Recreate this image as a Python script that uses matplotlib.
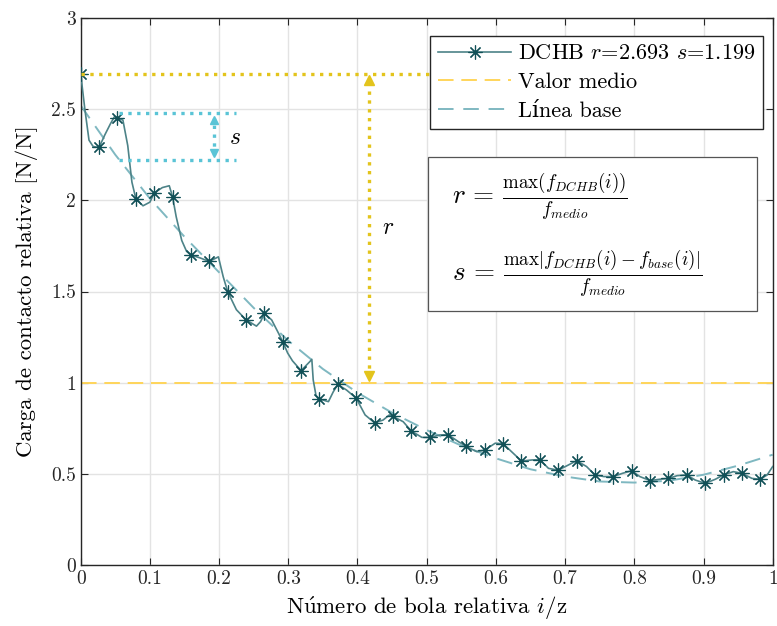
import numpy as np
import matplotlib
matplotlib.use("Agg")
import matplotlib.pyplot as plt
from matplotlib.ticker import FormatStrFormatter
from matplotlib.patches import Rectangle

plt.rcParams['font.family'] = ['cmr10', 'DejaVu Serif']
plt.rcParams['mathtext.fontset'] = 'cm'
plt.rcParams['axes.formatter.use_mathtext'] = True

# relative ball position of each marked ball
ball_x = np.linspace(0, 0.982, 38)
ball_load = [2.693, 2.29, 2.45, 2.01, 2.04, 2.02, 1.70, 1.665, 1.50, 1.345,
             1.38, 1.225, 1.066, 0.91, 0.99, 0.915, 0.78, 0.815, 0.735, 0.70,
             0.715, 0.65, 0.63, 0.665, 0.57, 0.578, 0.52, 0.572, 0.494, 0.485,
             0.517, 0.463, 0.475, 0.494, 0.448, 0.494, 0.503, 0.47]

# load between the marked balls
between_x = [0.006, 0.012, 0.018, 0.035, 0.043, 0.049, 0.061, 0.068, 0.074,
             0.090, 0.100, 0.118, 0.128, 0.138, 0.146, 0.153, 0.172, 0.199,
             0.206, 0.225, 0.254, 0.260, 0.276, 0.286, 0.299, 0.306, 0.331,
             0.334, 0.336, 0.340, 0.358, 0.365, 0.384, 0.411, 0.437, 0.446,
             0.466, 0.493, 0.519, 0.546, 0.572, 0.599, 0.625, 0.652, 0.676,
             0.705, 0.731, 0.756, 0.783, 0.808, 0.836, 0.862, 0.888, 0.917,
             0.943, 0.970, 0.992, 1.0]
between_load = [2.50, 2.33, 2.295, 2.36, 2.42, 2.46, 2.44, 2.30, 2.10,
                1.97, 1.99, 2.07, 2.08, 1.91, 1.78, 1.72, 1.685, 1.69,
                1.58, 1.40, 1.31, 1.335, 1.344, 1.27, 1.163, 1.12, 1.115,
                1.128, 1.015, 0.93, 0.896, 0.95, 0.96, 0.823, 0.795, 0.823,
                0.786, 0.70, 0.713, 0.676, 0.622, 0.668, 0.613, 0.576, 0.53,
                0.549, 0.54, 0.485, 0.503, 0.485, 0.47, 0.49, 0.466, 0.47,
                0.512, 0.475, 0.494, 0.54]

# baseline trend
base_x = [0, 0.05, 0.1, 0.15, 0.2, 0.25, 0.3, 0.35, 0.4, 0.45, 0.5,
          0.55, 0.6, 0.65, 0.7, 0.75, 0.8, 0.85, 0.9, 0.95, 1.0]
base_load = [2.52, 2.25, 2.01, 1.80, 1.605, 1.41, 1.23, 1.075, 0.945, 0.835,
             0.74, 0.655, 0.585, 0.525, 0.485, 0.458, 0.452, 0.462, 0.495,
             0.545, 0.605]

mean_load = 1.0
r_value = 2.693
s_value = 1.199
s_top, s_bottom = 2.48, 2.22

line_x = np.concatenate([ball_x, between_x])
line_y = np.concatenate([ball_load, between_load])
order = np.argsort(line_x)
line_x, line_y = line_x[order], line_y[order]

c_line = '#4d8388'
c_mark = '#115057'
c_base = '#7fb8c1'
c_mean = '#ffd55a'
c_r = '#e3c41c'
c_s = '#5ac4d6'
star = (8, 2, 0)

fig = plt.figure(figsize=(7.77, 6.26), dpi=100)
ax = fig.add_axes([80.7 / 777, 61 / 626, 692 / 777, 547 / 626])

ax.plot(line_x, line_y, color=c_line, lw=1.2, zorder=3)
ax.plot(ball_x, ball_load, ls='none', marker=star, ms=10, mew=0.85,
        color=c_mark, zorder=4)
ax.axhline(mean_load, color=c_mean, lw=1.4, ls=(0, (8, 4)), zorder=2)
ax.plot(base_x, base_load, color=c_base, lw=1.4, ls=(0, (8, 5)), zorder=2)

# legend handles
h_main, = ax.plot([], [], color=c_line, lw=1.2, marker=star, ms=10,
                  mew=0.85, mec=c_mark, label=f'DCHB $r$=${r_value}$ $s$=${s_value}$')
h_mean, = ax.plot([], [], color=c_mean, lw=1.4, ls=(0, (8, 4)), label='Valor medio')
h_base, = ax.plot([], [], color=c_base, lw=1.4, ls=(0, (8, 5)), label='Línea base')

# r annotation
ax.plot([0, 0.541], [r_value, r_value], color=c_r, lw=2.4, ls=':', zorder=5)
ax.plot([0.416, 0.416], [mean_load + 0.03, r_value - 0.03], color=c_r, lw=2.4,
        ls=':', zorder=5)
ax.plot(0.416, r_value - 0.035, marker='^', ms=7, color=c_r, zorder=5)
ax.plot(0.416, mean_load + 0.035, marker='v', ms=7, color=c_r, zorder=5)
ax.text(0.435, 1.85, '$r$', fontsize=17, ha='left', va='center')

# s annotation
ax.plot([0.056, 0.225], [s_top, s_top], color=c_s, lw=2.4, ls=':', zorder=5)
ax.plot([0.056, 0.225], [s_bottom, s_bottom], color=c_s, lw=2.4, ls=':', zorder=5)
ax.plot([0.192, 0.192], [s_bottom + 0.03, s_top - 0.03], color=c_s, lw=2.4,
        ls=':', zorder=5)
ax.plot(0.192, s_top - 0.04, marker='^', ms=6, color=c_s, zorder=5)
ax.plot(0.192, s_bottom + 0.04, marker='v', ms=6, color=c_s, zorder=5)
ax.text(0.215, 2.34, '$s$', fontsize=17, ha='left', va='center')

# formula box
ax.add_patch(Rectangle((0.502, 0.464), 0.475, 0.282, transform=ax.transAxes,
                       fill=True, facecolor='white', edgecolor='#555555',
                       lw=0.9, zorder=6))
ax.text(0.537, 0.672, r'$r\,=\,\frac{\max(f_{DCHB}(i))}{f_{medio}}$',
        transform=ax.transAxes, fontsize=19.5, va='center', zorder=7)
ax.text(0.537, 0.532, r'$s\,=\,\frac{\max|f_{DCHB}(i)-f_{base}(i)|}{f_{medio}}$',
        transform=ax.transAxes, fontsize=19.5, va='center', zorder=7)

leg = ax.legend(handles=[h_main, h_mean, h_base], loc='upper right',
                bbox_to_anchor=(0.986, 0.967), borderaxespad=0, fontsize=16,
                handlelength=3.3, handletextpad=0.3, labelspacing=0.42,
                borderpad=0.35, fancybox=False, framealpha=1)
leg.get_frame().set_edgecolor('#262626')
leg.get_frame().set_linewidth(1.0)
leg.set_zorder(8)

ax.set_xlim(0, 1)
ax.set_ylim(0, 3)
ax.set_xticks(np.arange(0, 1.01, 0.1))
ax.set_yticks(np.arange(0, 3.01, 0.5))
ax.xaxis.set_major_formatter(FormatStrFormatter('%g'))
ax.yaxis.set_major_formatter(FormatStrFormatter('%g'))
ax.tick_params(direction='in', top=True, right=True, labelsize=14,
               length=5, width=0.8, colors='#262626')
ax.grid(True, color='#e3e3e3', lw=1.0)
ax.set_axisbelow(True)
for sp in ax.spines.values():
    sp.set_color('#262626')
    sp.set_linewidth(1.0)

ax.set_xlabel(r'N$\acute{\mathrm{u}}$mero de bola relativa $i$/z', fontsize=16.5,
              labelpad=5)
ax.set_ylabel('Carga de contacto relativa [N/N]', fontsize=16.5, labelpad=9)

fig.savefig('out.png', dpi=100)
